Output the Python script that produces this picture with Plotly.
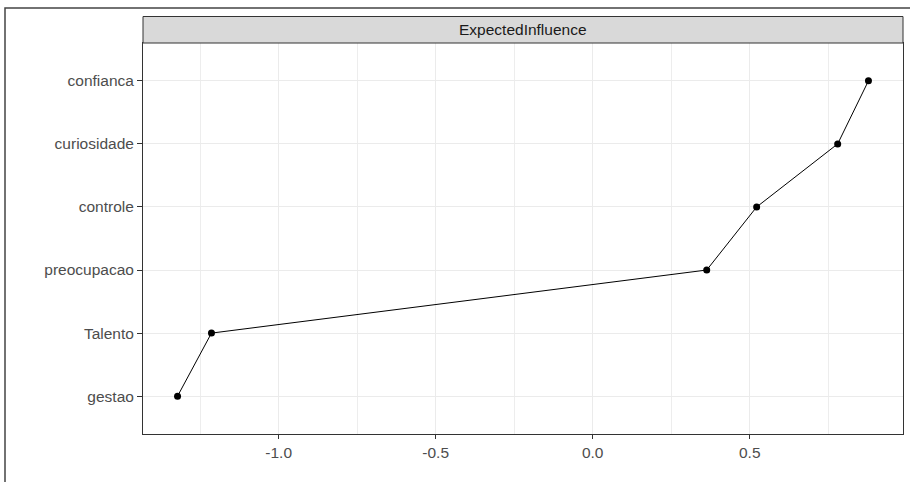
import plotly.graph_objects as go

nodes = ["gestao", "Talento", "preocupacao", "controle", "curiosidade", "confianca"]
values = [-1.322, -1.214, 0.363, 0.522, 0.780, 0.878]
x_ticks = [-1.0, -0.5, 0.0, 0.5]
x_tick_labels = ["-1.0", "-0.5", "0.0", "0.5"]
facet_label = "ExpectedInfluence"

W, H = 910, 482
L, R, T, B = 143, 7, 43, 48
pw, ph = W - L - R, H - T - B

fig = go.Figure()
fig.add_trace(go.Scatter(
    x=values, y=nodes, mode="lines+markers",
    line=dict(color="black", width=1),
    marker=dict(color="black", size=7),
    showlegend=False, hoverinfo="x+y",
))

font = dict(family="Liberation Sans, Arial, sans-serif", size=15.5, color="#4d4d4d")

fig.update_layout(
    width=W, height=H,
    margin=dict(l=L, r=R, t=T, b=B, pad=0),
    paper_bgcolor="white", plot_bgcolor="white",
    font=font,
    xaxis=dict(
        range=[-1.432, 0.988],
        tickvals=x_ticks, ticktext=x_tick_labels,
        showgrid=True, gridcolor="#ebebeb", gridwidth=1,
        minor=dict(showgrid=True, gridcolor="#ededed", gridwidth=1, dtick=0.5, tick0=0.25),
        zeroline=False,
        showline=True, linecolor="#333333", linewidth=1, mirror=True,
        ticks="outside", ticklen=4, tickcolor="#333333",
        tickfont=font,
    ),
    yaxis=dict(
        range=[-0.6, 5.6],
        categoryorder="array", categoryarray=nodes,
        showgrid=True, gridcolor="#ebebeb", gridwidth=1,
        zeroline=False,
        showline=True, linecolor="#333333", linewidth=1, mirror=True,
        ticks="outside", ticklen=5, tickcolor="#333333",
        tickfont=font,
    ),
)

strip_h = 26.5 / ph
fig.add_shape(type="rect", xref="paper", yref="paper",
              x0=0, x1=1, y0=1, y1=1 + strip_h,
              fillcolor="#d9d9d9", line=dict(color="#333333", width=1), layer="above")
fig.add_annotation(xref="paper", yref="paper", x=0.5, y=1 + strip_h / 2,
                   text=facet_label, showarrow=False, yanchor="middle",
                   font=dict(family="Liberation Sans, Arial, sans-serif", size=15.5, color="#1a1a1a"))

# outer border (cropped at right and bottom)
fig.add_shape(type="rect", xref="paper", yref="paper",
              x0=(5 - L) / pw, x1=(W + 10 - L) / pw,
              y0=-(B + 10) / ph, y1=1 + (T - 8) / ph,
              fillcolor="rgba(0,0,0,0)", line=dict(color="#444444", width=1.5), layer="above")

fig.write_html("out.html", config={"displayModeBar": False},
               post_script="document.body.style.margin='0px';document.body.style.overflow='hidden';")
